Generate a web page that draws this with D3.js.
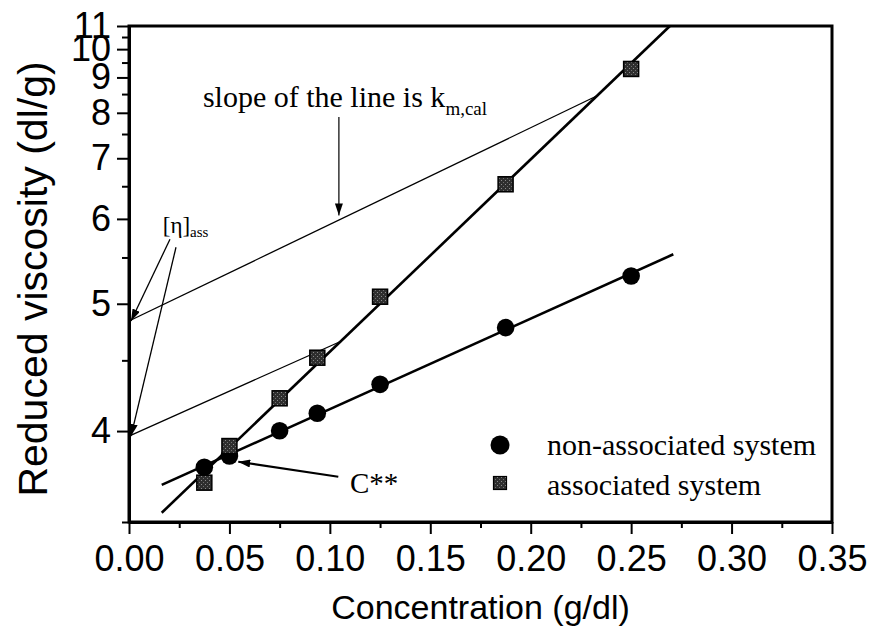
<!DOCTYPE html>
<html>
<head>
<meta charset="utf-8">
<script src="https://cdnjs.cloudflare.com/ajax/libs/d3/7.8.5/d3.min.js"></script>
<style>
body { margin: 0; background: #fff; }
svg { display: block; }
</style>
</head>
<body>
<svg id="SVG_CONTAINER" width="873" height="635"></svg>
<script>
// concentration (g/dl) of the measured solutions
const conc = [0.0375, 0.05, 0.075, 0.09375, 0.125, 0.1875, 0.25];
// reduced viscosity (dl/g)
const nonAssoc = [3.785, 3.849, 4.002, 4.115, 4.317, 4.776, 5.288];
const assoc    = [3.700, 3.908, 4.217, 4.521, 5.070, 6.533, 9.278];

// straight lines drawn in the figure, [conc, viscosity] end points
const nonAssocFit = [[0.0163, 3.688], [0.271, 5.538]];
const assocFit    = [[0.0163, 3.545], [0.2693, 11.0]];
const tangentHigh = [[0, 4.836], [0.2328, 8.446]];
const tangentLow  = [[0, 3.969], [0.105, 4.653]];

// ticks
const xTicks = [0, 0.05, 0.10, 0.15, 0.20, 0.25, 0.30, 0.35];
const xMinor = [0.025, 0.075, 0.125, 0.175, 0.225, 0.275, 0.325];
const yTicks = [4, 5, 6, 7, 8, 9, 10, 11];
const yMinor = [3.5, 4.5, 5.5, 6.5, 7.5, 8.5, 9.5, 10.5];

const MARGIN = {"LEFT": 129, "RIGHT": 41, "TOP": 26, "BOTTOM": 113};
const width = 873, height = 635;
const SANS = "'Liberation Sans', Arial, sans-serif";
const SERIF = "'Liberation Serif', 'Times New Roman', serif";

var svg = d3.select("#SVG_CONTAINER");

var xScale = d3.scaleLinear()
    .domain([0, 0.35])
    .range([MARGIN.LEFT, width - MARGIN.RIGHT]);

// the y axis is reciprocal (1/y is linear)
var yScale = d3.scalePow()
    .exponent(-1)
    .domain([3.5, 11])
    .range([height - MARGIN.BOTTOM, MARGIN.TOP]);

var defs = svg.append("defs");

var grain = defs.append("pattern")
    .attr("id", "grain")
    .attr("width", 4).attr("height", 4)
    .attr("patternUnits", "userSpaceOnUse");
grain.append("rect").attr("width", 4).attr("height", 4).attr("fill", "#2e2e2e");
grain.append("rect").attr("x", 1).attr("y", 0).attr("width", 1).attr("height", 1).attr("fill", "#8a8a8a");
grain.append("rect").attr("x", 3).attr("y", 2).attr("width", 1).attr("height", 1).attr("fill", "#6e6e6e");

defs.append("marker")
    .attr("id", "arrow")
    .attr("viewBox", "0 0 12 8")
    .attr("refX", 12).attr("refY", 4)
    .attr("markerWidth", 12).attr("markerHeight", 8)
    .attr("markerUnits", "userSpaceOnUse")
    .attr("orient", "auto")
    .append("path")
    .attr("d", "M0,0L12,4L0,8z")
    .attr("fill", "#000");

// frame
svg.append("rect")
    .attr("x", xScale(0))
    .attr("y", yScale(11))
    .attr("width", xScale(0.35) - xScale(0))
    .attr("height", yScale(3.5) - yScale(11))
    .attr("fill", "none")
    .attr("stroke", "#000")
    .attr("stroke-width", 3);

// x axis
var xAxis = d3.axisBottom(xScale)
    .tickValues(xTicks)
    .tickFormat(d3.format(".2f"))
    .tickSize(12)
    .tickPadding(11)
    .tickSizeOuter(0);

svg.append("g")
    .attr("transform", "translate(0," + (height - MARGIN.BOTTOM) + ")")
    .call(xAxis);

svg.append("g")
    .attr("transform", "translate(0," + (height - MARGIN.BOTTOM) + ")")
    .call(d3.axisBottom(xScale).tickValues(xMinor).tickFormat("").tickSize(6).tickSizeOuter(0));

// y axis
var yAxis = d3.axisLeft(yScale)
    .tickValues(yTicks)
    .tickFormat(d3.format("d"))
    .tickSize(12)
    .tickPadding(6)
    .tickSizeOuter(0);

svg.append("g")
    .attr("transform", "translate(" + MARGIN.LEFT + ",0)")
    .call(yAxis);

svg.append("g")
    .attr("transform", "translate(" + MARGIN.LEFT + ",0)")
    .call(d3.axisLeft(yScale).tickValues(yMinor).tickFormat("").tickSize(7).tickSizeOuter(0));

svg.selectAll(".domain").attr("stroke-width", 3);
svg.selectAll(".tick line").attr("stroke-width", 2);
svg.selectAll(".tick text")
    .attr("font-family", SANS)
    .attr("font-size", 36)
    .attr("fill", "#000");

// axis titles
svg.append("text")
    .attr("x", (xScale(0) + xScale(0.35)) / 2)
    .attr("y", 619)
    .attr("text-anchor", "middle")
    .attr("font-family", SANS)
    .attr("font-size", 34)
    .text("Concentration (g/dl)");

svg.append("text")
    .attr("transform", "translate(47," + 279 + ") rotate(-90)")
    .attr("text-anchor", "middle")
    .attr("font-family", SANS)
    .attr("font-size", 41)
    .text("Reduced viscosity (dl/g)");

// lines
var line = d3.line()
    .x(d => xScale(d[0]))
    .y(d => yScale(d[1]));

var plot = svg.append("g");

[tangentHigh, tangentLow].forEach(function (pts) {
    plot.append("path")
        .attr("d", line(pts))
        .attr("fill", "none")
        .attr("stroke", "#000")
        .attr("stroke-width", 1.3);
});

[nonAssocFit, assocFit].forEach(function (pts) {
    plot.append("path")
        .attr("d", line(pts))
        .attr("fill", "none")
        .attr("stroke", "#000")
        .attr("stroke-width", 2.6);
});

// markers
plot.selectAll("circle.nonassoc")
    .data(conc.map((c, i) => [c, nonAssoc[i]]))
    .enter()
    .append("circle")
    .attr("class", "nonassoc")
    .attr("cx", d => xScale(d[0]))
    .attr("cy", d => yScale(d[1]))
    .attr("r", 8.8)
    .attr("fill", "#000");

plot.selectAll("rect.assoc")
    .data(conc.map((c, i) => [c, assoc[i]]))
    .enter()
    .append("rect")
    .attr("class", "assoc")
    .attr("x", d => xScale(d[0]) - 7.5)
    .attr("y", d => yScale(d[1]) - 7.5)
    .attr("width", 15)
    .attr("height", 15)
    .attr("fill", "url(#grain)")
    .attr("stroke", "#000")
    .attr("stroke-width", 1.5);

// annotations
var note = svg.append("g")
    .attr("font-family", SERIF)
    .attr("fill", "#000");

var slope = note.append("text")
    .attr("x", xScale(0.0368))
    .attr("y", yScale(8.157))
    .attr("font-size", 30)
    .text("slope of the line is k");
slope.append("tspan")
    .attr("dy", 8)
    .attr("font-size", 19)
    .text("m,cal");

note.append("line")
    .attr("x1", xScale(0.1045)).attr("y1", yScale(7.896))
    .attr("x2", xScale(0.1045)).attr("y2", yScale(6.05))
    .attr("stroke", "#000")
    .attr("stroke-width", 1.2)
    .attr("marker-end", "url(#arrow)");

var eta = note.append("text")
    .attr("x", xScale(0.0168))
    .attr("y", yScale(5.807))
    .attr("font-size", 23)
    .text("[η]");
eta.append("tspan")
    .attr("dy", 4)
    .attr("font-size", 15)
    .text("ass");

note.append("line")
    .attr("x1", xScale(0.0204)).attr("y1", yScale(5.725))
    .attr("x2", xScale(0.001)).attr("y2", yScale(4.836))
    .attr("stroke", "#000")
    .attr("stroke-width", 1.3)
    .attr("marker-end", "url(#arrow)");

note.append("line")
    .attr("x1", xScale(0.0234)).attr("y1", yScale(5.624))
    .attr("x2", xScale(0.001)).attr("y2", yScale(3.969))
    .attr("stroke", "#000")
    .attr("stroke-width", 1.3)
    .attr("marker-end", "url(#arrow)");

note.append("text")
    .attr("x", xScale(0.110))
    .attr("y", yScale(3.645))
    .attr("font-size", 29)
    .text("C**");

note.append("line")
    .attr("x1", xScale(0.1042)).attr("y1", yScale(3.732))
    .attr("x2", xScale(0.0544)).attr("y2", yScale(3.816))
    .attr("stroke", "#000")
    .attr("stroke-width", 2.2)
    .attr("marker-end", "url(#arrow)");

// legend
var legend = svg.append("g")
    .attr("transform", "translate(500,445)")
    .attr("font-family", SERIF)
    .attr("font-size", 30);

legend.append("circle").attr("cx", 0).attr("cy", 0).attr("r", 9.5).attr("fill", "#000");
legend.append("text").attr("x", 47).attr("y", 10).text("non-associated system");
legend.append("rect")
    .attr("x", -6.5).attr("y", 31.5).attr("width", 13).attr("height", 13)
    .attr("fill", "url(#grain)").attr("stroke", "#000").attr("stroke-width", 1.2);
legend.append("text").attr("x", 47).attr("y", 50).text("associated system");
</script>
</body>
</html>
